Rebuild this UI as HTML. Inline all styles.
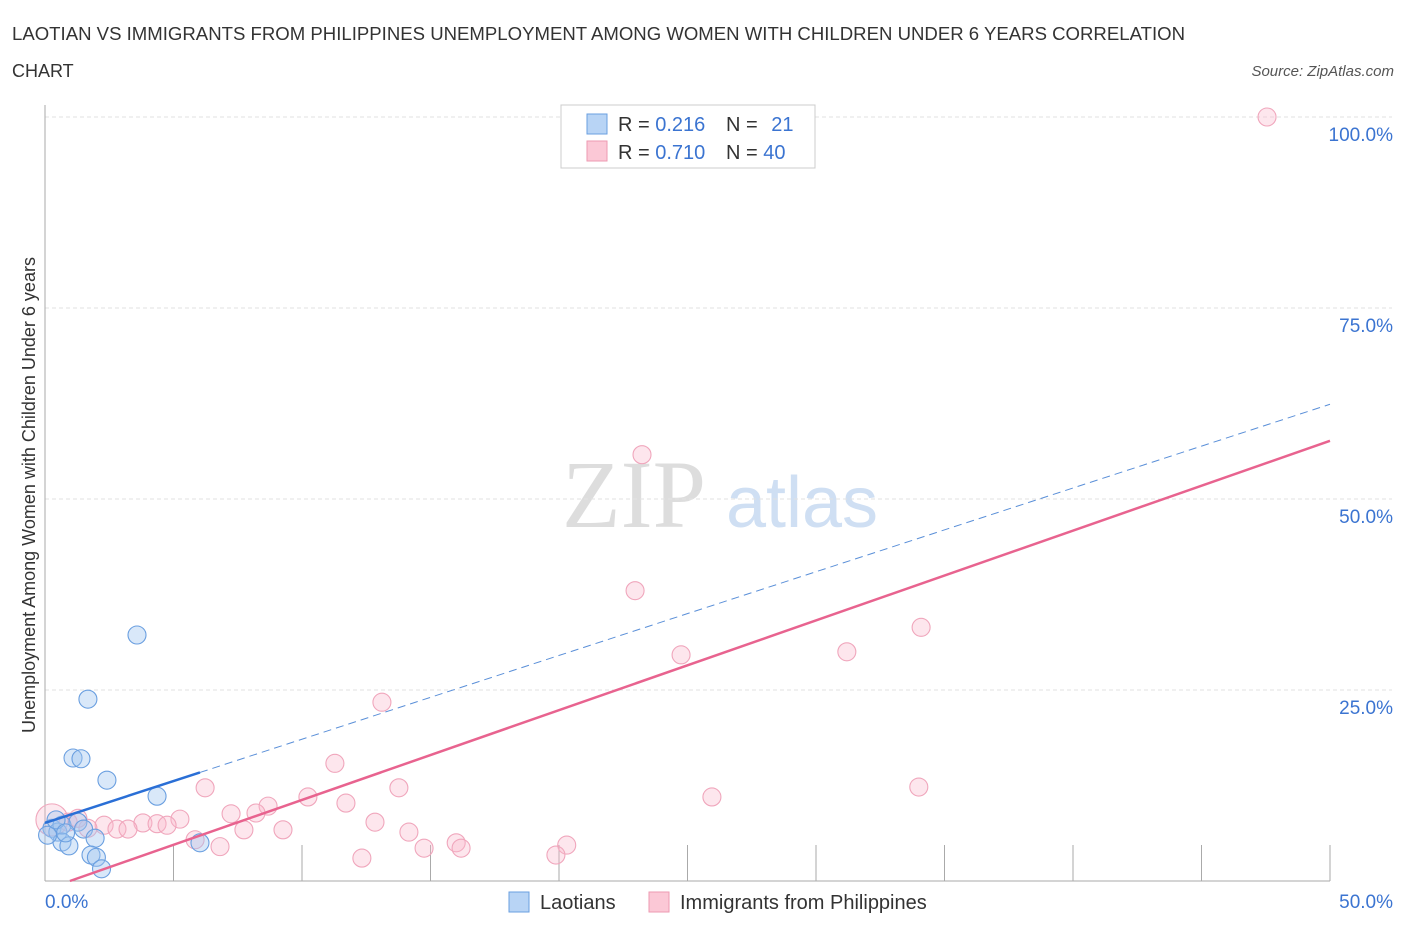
<!DOCTYPE html>
<html><head><meta charset="utf-8"><style>
body{margin:0;background:#fff;font-family:"Liberation Sans",sans-serif;}
</style></head><body>
<svg width="1406" height="930" xmlns="http://www.w3.org/2000/svg" id="svg" style="font-family:'Liberation Sans',sans-serif">
<text x="12" y="40" font-size="18" fill="#333" textLength="1173" lengthAdjust="spacingAndGlyphs">LAOTIAN VS IMMIGRANTS FROM PHILIPPINES UNEMPLOYMENT AMONG WOMEN WITH CHILDREN UNDER 6 YEARS CORRELATION</text>
<text x="12" y="77" font-size="18" fill="#333">CHART</text>
<text x="1394" y="76" font-size="15" fill="#555" font-style="italic" text-anchor="end">Source: ZipAtlas.com</text>
<text x="634" y="527" font-size="96" fill="#ddd" font-family="Liberation Serif" text-anchor="middle">ZIP</text>
<text x="802" y="527" font-size="72" fill="#cfdff3" text-anchor="middle">atlas</text>
<g id="grid"></g><g id="pts"></g><g id="lines"></g>
<text x="35" y="495" font-size="18" fill="#333" text-anchor="middle" transform="rotate(-90 35 495)">Unemployment Among Women with Children Under 6 years</text>
<g>
<rect x="561" y="105" width="254" height="63" fill="#fff" stroke="#ccc"/>
<rect x="587" y="114" width="20" height="20" fill="#b8d4f5" stroke="#6a9fe0"/>
<rect x="587" y="141" width="20" height="20" fill="#fbc8d6" stroke="#ee9ab2"/>
<text x="618" y="131" font-size="20" fill="#333">R = <tspan fill="#3b74d1">0.216</tspan></text>
<text x="726" y="131" font-size="20" fill="#333">N = <tspan fill="#3b74d1" dx="8">21</tspan></text>
<text x="618" y="159" font-size="20" fill="#333">R = <tspan fill="#3b74d1">0.710</tspan></text>
<text x="726" y="159" font-size="20" fill="#333">N = <tspan fill="#3b74d1">40</tspan></text>
</g>
<g>
<rect x="509" y="892" width="20" height="20" fill="#b8d4f5" stroke="#6a9fe0"/>
<text x="540" y="909" font-size="20" fill="#333">Laotians</text>
<rect x="649" y="892" width="20" height="20" fill="#fbc8d6" stroke="#ee9ab2"/>
<text x="680" y="909" font-size="20" fill="#333">Immigrants from Philippines</text>
</g>
</svg>
<script>
const yTicks=[25,50,75,100];
const yTickLabels=["25.0%","50.0%","75.0%","100.0%"];
const xTickLabels=["0.0%","50.0%"];
const laoX=[3.58,1.67,1.09,1.40,2.41,4.36,6.03,0.27,0.5,0.66,1.28,1.5,1.95,0.66,0.93,1.79,2.0,2.2,0.1,0.43,0.8];
const laoY=[32.2,23.8,16.1,16.0,13.2,11.1,5.0,6.9,6.4,7.3,7.7,6.8,5.6,5.1,4.6,3.4,3.1,1.6,6.0,8.0,6.3];
const phX=[47.55,23.23,22.96,34.09,24.75,31.2,13.11,11.28,13.77,6.23,25.95,34.0,10.23,8.68,11.71,7.24,8.21,5.25,12.84,3.81,4.36,4.75,2.3,2.8,3.23,7.74,9.26,14.16,5.84,6.81,14.75,16.0,16.19,20.3,19.88,12.33,0.27,0.9,1.67,1.28];
const phY=[100,55.8,38.0,33.2,29.6,30.0,23.4,15.4,12.2,12.2,11.0,12.3,11.0,9.8,10.2,8.8,8.9,8.1,7.7,7.6,7.5,7.3,7.3,6.8,6.8,6.7,6.7,6.4,5.4,4.5,4.3,5.0,4.3,4.7,3.4,3.0,8.0,7.7,6.9,8.2];
const laoTrend=[1.096,7.6];
const phTrend=[1.175,-1.14];
const NS='http://www.w3.org/2000/svg';
const X=v=>45+v*25.7, Y=v=>881-v*7.64;
function mk(t,a,p){const e=document.createElementNS(NS,t);for(const k in a)e.setAttribute(k,a[k]);document.getElementById(p).appendChild(e);return e;}
yTicks.forEach((t,i)=>{
 let l=mk('line',{x1:45,x2:1392,y1:Y(t),y2:Y(t),stroke:'#e2e2e2','stroke-dasharray':'4,3'},'grid');
 
 
 let tx=mk('text',{x:1393,y:Y(t)+24,'font-size':19,fill:'#3b74d1','text-anchor':'end'},'grid');tx.textContent=yTickLabels[i];
 
 
});
let ax=mk('line',{x1:45,x2:1330,y1:881,y2:881,stroke:'#aaa'},'grid');


let ay=mk('line',{x1:45,x2:45,y1:105,y2:881,stroke:'#aaa'},'grid');


for(let i=1;i<=10;i++){let t=mk('line',{x1:X(i*5),x2:X(i*5),y1:845,y2:881,stroke:'#aaa'},'grid');
 
 }
[[0,'start',45],[50,'end',1393]].forEach((d,i)=>{let t=mk('text',{x:d[2],y:908,'font-size':19,fill:'#3b74d1','text-anchor':d[1]},'grid');t.textContent=xTickLabels[i];
 
 });
phX.forEach((x,i)=>{let c=mk('circle',{cx:X(x),cy:Y(phY[i]),r:i==36?16:9,fill:i==36?'rgba(248,182,202,0.3)':'rgba(248,182,202,0.35)',stroke:'#f0a6bc','stroke-width':1.1},'pts');
 
 });
laoX.forEach((x,i)=>{let c=mk('circle',{cx:X(x),cy:Y(laoY[i]),r:9,fill:'rgba(160,198,240,0.4)',stroke:'#6a9fe0','stroke-width':1.1},'pts');
 
 });
let l1=mk('line',{x1:X(6.03),y1:Y(laoTrend[0]*6.03+laoTrend[1]),x2:X(50),y2:Y(laoTrend[0]*50+laoTrend[1]),stroke:'#5a8fd8','stroke-width':1,'stroke-dasharray':'8,5'},'lines');


let l2=mk('line',{x1:X(0),y1:Y(laoTrend[1]),x2:X(6.03),y2:Y(laoTrend[0]*6.03+laoTrend[1]),stroke:'#2a6fd6','stroke-width':2.5},'lines');


let x0=-phTrend[1]/phTrend[0];
let l3=mk('line',{x1:X(x0),y1:Y(0),x2:X(50),y2:Y(phTrend[0]*50+phTrend[1]),stroke:'#e8638f','stroke-width':2.5},'lines');


</script>
</body></html>
